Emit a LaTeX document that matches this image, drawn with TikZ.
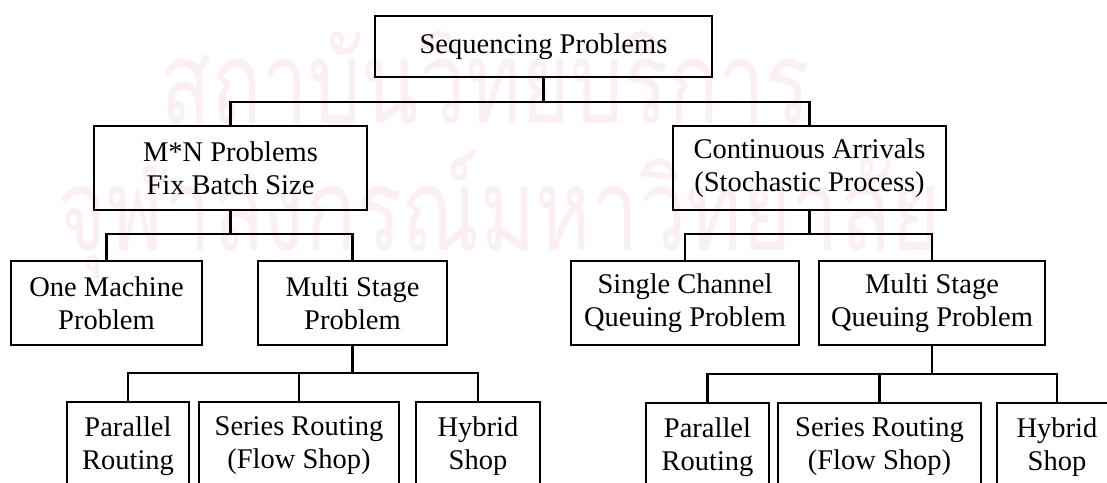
\documentclass[tikz,border=0pt]{standalone}
\usepackage{fontspec}
\setmainfont{Liberation Serif}
\newfontfamily\thaifont[Script=Thai]{Loma}
\definecolor{wmpink}{RGB}{251,239,244}
\begin{document}
\begin{tikzpicture}[x=1pt,y=-1pt,
  box/.style={draw, line width=2.4pt, align=center, inner sep=0pt,
              font=\fontsize{28.5}{33}\selectfont},
  link/.style={line width=2.4pt},
  wm/.style={text=wmpink, inner sep=0pt, anchor=base west}]
\useasboundingbox (0,0) rectangle (1107,482);

% faint background lettering
\node[wm] (wmA) at (160,123) {\resizebox{650pt}{92pt}{\thaifont สถาบันวิทยบริการ}};
\node[wm] (wmB) at (57,250) {\resizebox{883pt}{100pt}{\thaifont จุฬาลงกรณ์มหาวิทยาลัย}};

% level 0
\node[box, minimum width=337pt, minimum height=61pt] (top) at (543.5,46.5) {Sequencing Problems};
% level 1
\node[box, minimum width=273pt, minimum height=84pt] (mn) at (230.5,168) {M*N Problems\\Fix Batch Size};
\node[box, minimum width=273pt, minimum height=84pt] (ca) at (809.5,168) {Continuous Arrivals\\(Stochastic Process)};
% level 2
\node[box, minimum width=191pt, minimum height=84pt] (om) at (106.5,303) {One Machine\\Problem};
\node[box, minimum width=189pt, minimum height=84pt] (ms) at (352.5,303) {Multi Stage\\Problem};
\node[box, minimum width=228pt, minimum height=84pt] (sc) at (685,303) {Single Channel\\Queuing Problem};
\node[box, minimum width=226pt, minimum height=84pt] (mq) at (932,303) {Multi Stage\\Queuing Problem};
% level 3
\node[box, minimum width=122pt, minimum height=88pt] (prA) at (128,446) {Parallel\\Routing};
\node[box, minimum width=200pt, minimum height=88pt] (srA) at (299,446) {Series Routing\\(Flow Shop)};
\node[box, minimum width=124pt, minimum height=88pt] (hsA) at (478,446) {Hybrid\\Shop};
\node[box, minimum width=123pt, minimum height=88pt] (prB) at (707.5,447) {Parallel\\Routing};
\node[box, minimum width=203pt, minimum height=88pt] (srB) at (879.5,447) {Series Routing\\(Flow Shop)};
\node[box, minimum width=120pt, minimum height=88pt] (hsB) at (1057,447) {Hybrid\\Shop};

% branch points
\coordinate (j1) at (543.5,102);
\coordinate (j2) at (230.5,234);
\coordinate (j3) at (809.5,234);
\coordinate (j4) at (352.5,373);
\coordinate (j5) at (932,374);

% connectors
\draw[link] (top.south) -- (j1);
\draw[link] (mn.north) |- (j1) -| (ca.north);
\draw[link] (mn.south) -- (j2);
\draw[link] (om.north) |- (j2) -| (ms.north);
\draw[link] (ca.south) -- (j3);
\draw[link] (sc.north) |- (j3) -| (mq.north);
\draw[link] (ms.south) -- (j4);
\draw[link] (prA.north) |- (j4) -| (hsA.north);
\draw[link] (srA.north) -- (srA.north |- j4);
\draw[link] (mq.south) -- (j5);
\draw[link] (prB.north) |- (j5) -| (hsB.north);
\draw[link] (srB.north) -- (srB.north |- j5);
\end{tikzpicture}
\end{document}
